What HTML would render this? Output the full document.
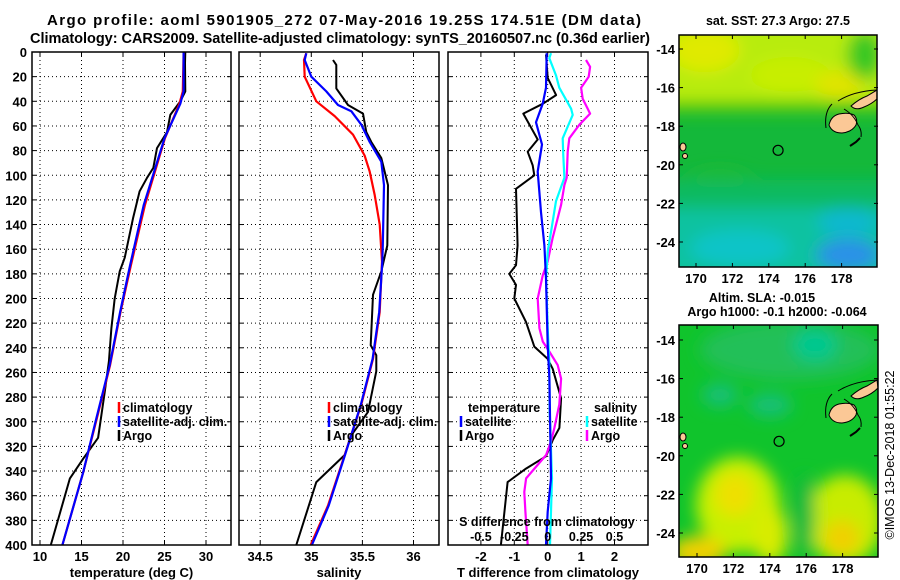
<!DOCTYPE html>
<html><head><meta charset="utf-8">
<style>
html,body{margin:0;padding:0;background:#fff;}
svg{display:block;font-family:"Liberation Sans",Arial,sans-serif;font-weight:bold;}
</style></head>
<body>
<svg id="fig" width="900" height="580" viewBox="0 0 900 580" xmlns="http://www.w3.org/2000/svg">
<defs>
<filter id="blur1" x="-50%" y="-50%" width="200%" height="200%"><feGaussianBlur stdDeviation="8"/></filter>
<filter id="blur2" x="-50%" y="-50%" width="200%" height="200%"><feGaussianBlur stdDeviation="8"/></filter>
<clipPath id="clipMap1"><rect x="679" y="35" width="198" height="232"/></clipPath>
<clipPath id="clipMap2"><rect x="679" y="325" width="199" height="232"/></clipPath>
</defs>
<g>
<text x="344" y="25" text-anchor="middle" font-size="15" textLength="594">Argo profile: aoml 5901905_272 07-May-2016 19.25S 174.51E (DM data)</text>
<text x="340" y="43" text-anchor="middle" font-size="14.5" textLength="620">Climatology: CARS2009. Satellite-adjusted climatology: synTS_20160507.nc (0.36d earlier)</text>
</g>
<g id="panels"></g>
<g id="maps"></g>
<text transform="translate(894,455) rotate(-90)" text-anchor="middle" font-size="12.5" font-weight="normal">©IMOS 13-Dec-2018 01:55:22</text>
</svg>
<script>
// ---------- data ----------
const depthTicks = [0,20,40,60,80,100,120,140,160,180,200,220,240,260,280,300,320,340,360,380,400];
const tempTicks = [10,15,20,25,30];
const salTicks = [34.5,35,35.5,36];
const dTTicks = [-2,-1,0,1,2];
const dSTicks = [-0.5,-0.25,0,0.25,0.5];

const tArgoDepth = [0,9,32,40,51,65,78,94,102,113,135,167,178,200,224,251,276,313,330,346,400];
const tArgoVal   = [27.5,27.47,27.5,26.9,25.7,25.3,24.1,23.65,22.9,22.0,21.2,20.2,19.6,19.0,18.6,18.3,17.8,17.0,15.2,13.6,11.3];
const tClimDepth = [0,32,42,70,124,173,211,254,297,341,400];
const tClimVal   = [27.3,27.2,26.8,25.05,22.65,20.95,19.7,18.45,16.85,15.2,12.7];
const tSatDepth  = [0,32,42,70,124,173,211,254,297,341,400];
const tSatVal    = [27.3,27.3,26.9,25.0,22.5,20.85,19.65,18.4,16.8,15.2,12.7];

const sArgoDepth = [6.5,10.5,29.5,43,50,65,73,86,108,157,178,197,238,246,259,292,311,327,349,400];
const sArgoVal   = [35.212,35.245,35.245,35.359,35.506,35.538,35.587,35.685,35.75,35.744,35.685,35.604,35.581,35.636,35.636,35.555,35.391,35.327,35.049,34.853];
const sClimDepth = [1,6.5,20,40,52,67,84,97,116,140,170,211,249,286,327,368,400];
const sClimVal   = [34.951,34.929,34.935,35.049,35.229,35.408,35.522,35.571,35.62,35.669,35.692,35.669,35.604,35.489,35.327,35.163,34.994];
const sSatDepth  = [1,6.5,20,32,43,48,59,73,89,108,157,170,211,249,286,327,368,400];
const sSatVal    = [34.951,34.935,35.0,35.147,35.261,35.391,35.489,35.571,35.685,35.711,35.7,35.695,35.664,35.6,35.485,35.33,35.17,35.006];

const dTArgoDepth = [2,21,35,42,50,71,81,92,100,111,157,173,180,189,200,219,239,249,257,281,305,315,328,338,349,400];
const dTArgoVal   = [-0.05,0,0.25,-0.15,-0.73,-0.30,-0.60,-0.45,-0.40,-0.95,-0.90,-0.95,-1.15,-0.95,-1.0,-0.65,-0.40,0,0.15,0.40,0.35,0.15,-0.05,-0.65,-1.2,-1.4];
const dTSatDepth  = [1,29,42,57,75,97,130,157,184,238,265,346,373,400];
const dTSatVal    = [-0.03,-0.05,-0.15,-0.35,-0.17,-0.30,-0.20,-0.10,-0.05,0,0.05,0.10,0,-0.05];
const dSSatDepth  = [1,5,19,29,46,51,70,84,102,121,146,162,184,224,251,292,346,400];
const dSSatVal    = [0.025,0.012,0.062,0.087,0.175,0.187,0.112,0.117,0.125,0.062,0.025,0,-0.012,0,0.012,0.015,0.032,0.017];
const dSArgoDepth = [6.5,12,20,29,38,50,59,70,81,102,108,124,151,170,181,200,224,235,243,254,265,286,305,316,327,346,357,373,400];
const dSArgoVal   = [0.287,0.317,0.307,0.25,0.262,0.317,0.237,0.162,0.15,0.142,0.125,0.1,0.037,0,-0.037,-0.075,-0.062,-0.037,0.012,0.075,0.1,0.087,0.05,0.025,-0.012,-0.162,-0.175,-0.167,-0.15];

// ---------- geometry ----------
const NS = "http://www.w3.org/2000/svg";
const Y0 = 52, Y1 = 545;
function yD(d){ return Y0 + (d/400)*(Y1-Y0); }
function xT(t){ return 40 + (t-10)*8.3; }
function xS(s){ return 311.3 + (s-35)*102.2; }
function xDT(v){ return 547.7 + v*33.4; }
function xDS(v){ return 547.7 + v*133.6; }

function mk(tag, attrs, parent){
  const e = document.createElementNS(NS, tag);
  for (const k in attrs) e.setAttribute(k, attrs[k]);
  if (parent) parent.appendChild(e);
  return e;
}
function txt(parent, x, y, s, size, anchor){
  const t = mk('text', {x:x, y:y, 'font-size':size, 'text-anchor':anchor||'middle'}, parent);
  t.textContent = s;
  return t;
}
const panels = document.getElementById('panels');

function drawFrame(name, x0, x1, xf, xticks, xlabel){
  const g = mk('g', {}, panels);
  
  
  const grid = mk('g', {stroke:'#000','stroke-width':1,'stroke-dasharray':'1,3'}, g);
  
  
  depthTicks.forEach(d => { if (d>0 && d<400) mk('line', {x1:x0, x2:x1, y1:yD(d), y2:yD(d)}, grid); });
  xticks.forEach(v => { const x = xf(v); mk('line', {x1:x, x2:x, y1:Y0, y2:Y1}, grid); });
  const tk = mk('g', {stroke:'#000','stroke-width':1}, g);
  depthTicks.forEach(d => { const y=yD(d); mk('line',{x1:x0,x2:x0+4,y1:y,y2:y},tk); mk('line',{x1:x1-4,x2:x1,y1:y,y2:y},tk); });
  xticks.forEach(v => { const x=xf(v); mk('line',{x1:x,x2:x,y1:Y1-4,y2:Y1},tk); mk('line',{x1:x,x2:x,y1:Y0,y2:Y0+4},tk); });
  xticks.forEach(v => {
    const t = txt(g, xf(v), 561, String(v), 13);
    
    
  });
  const xl = txt(g, (x0+x1)/2, 577, xlabel, 13);
  
  
  return g;
}
function drawLine(g, name, depths, vals, xf, color, w){
  const pts = depths.map((d,i) => xf(vals[i]).toFixed(1) + ',' + yD(d).toFixed(1)).join(' ');
  const p = mk('polyline', {points:pts, fill:'none', stroke:color, 'stroke-width':w, 'stroke-linejoin':'round'}, g);
  
  
}
function legendEntry(g, x, y, color, label, name){
  const lg = mk('g', {}, g);
  
  
  mk('line', {x1:x, x2:x, y1:y-10, y2:y+1, stroke:color, 'stroke-width':2.5}, lg);
  txt(lg, x+4, y, label, 12.5, 'start');
}

const g1 = drawFrame('temperature-panel', 32, 231, xT, tempTicks, 'temperature (deg C)');
drawLine(g1, 'argo-temperature-line', tArgoDepth, tArgoVal, xT, '#000', 2);
drawLine(g1, 'climatology-temperature-line', tClimDepth, tClimVal, xT, '#ff0000', 2.2);
drawLine(g1, 'satellite-temperature-line', tSatDepth, tSatVal, xT, '#0000ff', 2.2);
legendEntry(g1, 119, 412, '#ff0000', 'climatology', 'legend-climatology');
legendEntry(g1, 119, 426, '#0000ff', 'satellite-adj. clim.', 'legend-satellite');
legendEntry(g1, 119, 440, '#000', 'Argo', 'legend-argo');
depthTicks.forEach(d => {
  const t = txt(g1, 27, yD(d)+5, String(d), 13, 'end');
  
  
});
mk('rect', {x:32, y:Y0, width:199, height:Y1-Y0, fill:'none', stroke:'#000', 'stroke-width':1.5}, g1);

const g2 = drawFrame('salinity-panel', 239, 439, xS, salTicks, 'salinity');
drawLine(g2, 'argo-salinity-line', sArgoDepth, sArgoVal, xS, '#000', 2);
drawLine(g2, 'climatology-salinity-line', sClimDepth, sClimVal, xS, '#ff0000', 2.2);
drawLine(g2, 'satellite-salinity-line', sSatDepth, sSatVal, xS, '#0000ff', 2.2);
legendEntry(g2, 329, 412, '#ff0000', 'climatology', 'legend-climatology');
legendEntry(g2, 329, 426, '#0000ff', 'satellite-adj. clim.', 'legend-satellite');
legendEntry(g2, 329, 440, '#000', 'Argo', 'legend-argo');
mk('rect', {x:239, y:Y0, width:200, height:Y1-Y0, fill:'none', stroke:'#000', 'stroke-width':1.5}, g2);

const g3 = drawFrame('difference-panel', 448, 648, xDT, dTTicks, 'T difference from climatology');
drawLine(g3, 'argo-t-diff-line', dTArgoDepth, dTArgoVal, xDT, '#000', 2);
drawLine(g3, 'argo-s-diff-line', dSArgoDepth, dSArgoVal, xDS, '#ff00ff', 2.2);
drawLine(g3, 'satellite-s-diff-line', dSSatDepth, dSSatVal, xDS, '#00ffff', 2.2);
drawLine(g3, 'satellite-t-diff-line', dTSatDepth, dTSatVal, xDT, '#0000ff', 2.2);
const lt = txt(g3, 468, 412, 'temperature', 12.5, 'start');


legendEntry(g3, 461, 426, '#0000ff', 'satellite', 'legend-t-satellite');
legendEntry(g3, 461, 440, '#000', 'Argo', 'legend-t-argo');
const ls = txt(g3, 594, 412, 'salinity', 12.5, 'start');


legendEntry(g3, 587, 426, '#00ffff', 'satellite', 'legend-s-satellite');
legendEntry(g3, 587, 440, '#ff00ff', 'Argo', 'legend-s-argo');
const st = txt(g3, 547, 526, 'S difference from climatology', 12.5);


dSTicks.forEach(v => {
  const t = txt(g3, xDS(v), 541, String(v), 12.5);
  
  
});
mk('rect', {x:448, y:Y0, width:200, height:Y1-Y0, fill:'none', stroke:'#000', 'stroke-width':1.5}, g3);

// ---------- maps ----------
const maps = document.getElementById('maps');
const lonTicks = [170,172,174,176,178];
const latTicks = [-14,-16,-18,-20,-22,-24];
const floatLon = 174.51, floatLat = -19.25;
function mapAxes(g, top, bottom, lat14y, lonX){
  const lx = lon => lonX + (lon-170)*18.2;
  const ly = lat => lat14y + (-14-lat)*19.3;
  const tk = mk('g', {stroke:'#000','stroke-width':1}, g);
  lonTicks.forEach(l => { const x=lx(l); mk('line',{x1:x,x2:x,y1:top,y2:top+4},tk); mk('line',{x1:x,x2:x,y1:bottom-4,y2:bottom},tk);
    const t = txt(g, x, bottom+16, String(l), 13);   });
  latTicks.forEach(l => { const y=ly(l); mk('line',{x1:679,x2:683,y1:y,y2:y},tk); mk('line',{x1:874,x2:878,y1:y,y2:y},tk);
    const t = txt(g, 675, y+5, String(l), 13, 'end');   });
  return {lx, ly};
}
function islands(g, dy){
  const ig = mk('g', {fill:'#fbc896', stroke:'#000', 'stroke-width':1}, g);
  
  
  // Viti Levu
  mk('path', {d:`M829 ${125+dy} q2 -9 10 -11 q9 -2 15 1 q4 4 2 10 q-4 7 -14 8 q-10 0 -13 -8z`}, ig);
  // Vanua Levu
  mk('path', {d:`M851 ${106+dy} q8 -7 16 -10 l10 -6 l1 8 q-6 6 -14 9 q-8 4 -13 -1z`}, ig);
  // reef outlines
  mk('path', {d:`M838 ${101+dy} q16 -10 40 -11`, fill:'none'}, ig);
  mk('path', {d:`M832 ${104+dy} q-8 8 -6 24`, fill:'none'}, ig);
  mk('path', {d:`M844 ${109+dy} q10 6 14 16 q4 5 3 12`, fill:'none'}, ig);
  mk('path', {d:`M850 ${146+dy} l6 -4 l4 -4`, fill:'none', 'stroke-width':2}, ig);
  mk('ellipse', {cx:683, cy:147+dy, rx:3, ry:4}, ig);
  mk('ellipse', {cx:685, cy:156+dy, rx:2.5, ry:2.5}, ig);
}

// Map 1 SST
const m1 = mk('g', {}, maps);


const m1c = mk('g', {'clip-path':'url(#clipMap1)'}, m1);
mk('rect', {x:679, y:35, width:198, height:232, fill:'#14b83a'}, m1c);
const m1b = mk('g', {filter:'url(#blur1)'}, m1c);
mk('rect', {x:660, y:20, width:240, height:82, fill:'#b8ec08'}, m1b);
mk('ellipse', {cx:705, cy:50, rx:35, ry:22, fill:'#e0ea00'}, m1b);
mk('ellipse', {cx:790, cy:75, rx:40, ry:18, fill:'#c8ee00'}, m1b);
mk('ellipse', {cx:840, cy:85, rx:25, ry:15, fill:'#e0e400'}, m1b);
mk('ellipse', {cx:865, cy:55, rx:18, ry:25, fill:'#38c820'}, m1b);
mk('rect', {x:660, y:102, width:240, height:12, fill:'#40c818'}, m1b);
mk('ellipse', {cx:720, cy:190, rx:40, ry:20, fill:'#20bc30'}, m1b);
mk('rect', {x:660, y:180, width:240, height:28, fill:'#0cba60'}, m1b);
mk('rect', {x:660, y:208, width:240, height:70, fill:'#08c2a0'}, m1b);
mk('ellipse', {cx:740, cy:248, rx:50, ry:18, fill:'#10c4c8'}, m1b);
mk('ellipse', {cx:848, cy:255, rx:32, ry:16, fill:'#2a90e8'}, m1b);
mk('ellipse', {cx:848, cy:222, rx:30, ry:14, fill:'#10b8d0'}, m1b);
islands(m1c, 0);
mk('rect', {x:679, y:35, width:198, height:232, fill:'none', stroke:'#000', 'stroke-width':1.5}, m1);
const a1 = mapAxes(m1, 35, 267, 49, 696);
const c1 = mk('circle', {cx:a1.lx(floatLon), cy:a1.ly(floatLat), r:5, fill:'none', stroke:'#000', 'stroke-width':1.2}, m1);


const t1 = txt(m1, 778, 25, 'sat. SST: 27.3 Argo: 27.5', 12.5);



// Map 2 SLA
const m2 = mk('g', {}, maps);


const m2c = mk('g', {'clip-path':'url(#clipMap2)'}, m2);
mk('rect', {x:679, y:325, width:199, height:232, fill:'#10c42c'}, m2c);
const m2b = mk('g', {filter:'url(#blur2)'}, m2c);
mk('ellipse', {cx:790, cy:350, rx:90, ry:30, fill:'#20c058'}, m2b);
mk('ellipse', {cx:815, cy:345, rx:22, ry:16, fill:'#00c890'}, m2b);
mk('ellipse', {cx:720, cy:395, rx:18, ry:12, fill:'#18c078'}, m2b);
mk('ellipse', {cx:770, cy:405, rx:22, ry:12, fill:'#18c078'}, m2b);
mk('ellipse', {cx:738, cy:505, rx:42, ry:48, fill:'#c8f000'}, m2b);
mk('ellipse', {cx:735, cy:495, rx:20, ry:22, fill:'#eee000'}, m2b);
mk('ellipse', {cx:770, cy:535, rx:18, ry:30, fill:'#d8ec00'}, m2b);
mk('ellipse', {cx:698, cy:552, rx:28, ry:16, fill:'#f0d000'}, m2b);
mk('ellipse', {cx:845, cy:520, rx:38, ry:45, fill:'#c8ec00'}, m2b);
mk('ellipse', {cx:842, cy:538, rx:18, ry:18, fill:'#f0d000'}, m2b);
mk('ellipse', {cx:805, cy:515, rx:10, ry:40, fill:'#14b840'}, m2b);
islands(m2c, 290);
mk('rect', {x:679, y:325, width:199, height:232, fill:'none', stroke:'#000', 'stroke-width':1.5}, m2);
const a2 = mapAxes(m2, 325, 557, 340, 697);
const c2 = mk('circle', {cx:a2.lx(floatLon), cy:a2.ly(floatLat), r:5, fill:'none', stroke:'#000', 'stroke-width':1.2}, m2);


const t2 = txt(m2, 762, 302, 'Altim. SLA: -0.015', 12.5);


const t3 = txt(m2, 777, 316, 'Argo h1000: -0.1 h2000: -0.064', 12.5);


</script>
</body></html>
